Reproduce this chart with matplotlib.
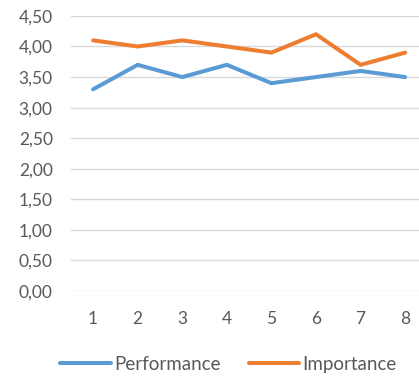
import matplotlib.pyplot as plt
from matplotlib.ticker import FuncFormatter

# Survey items and their mean scores
items = [1, 2, 3, 4, 5, 6, 7, 8]
performance = [3.3, 3.7, 3.5, 3.7, 3.4, 3.5, 3.6, 3.5]
importance = [4.1, 4.0, 4.1, 4.0, 3.9, 4.2, 3.7, 3.9]

plt.rcParams['font.family'] = ['Lato', 'DejaVu Sans']

fig = plt.figure(figsize=(4.19, 3.79), dpi=100)
ax = fig.add_axes([0.169, 0.232, 0.831, 0.726])

ax.plot(items, performance, color='#5B9BD5', linewidth=2.9, label='Performance',
        solid_capstyle='round', solid_joinstyle='round')
ax.plot(items, importance, color='#ED7D31', linewidth=2.9, label='Importance',
        solid_capstyle='round', solid_joinstyle='round')

ax.set_ylim(0, 4.5)
ax.set_xlim(0.5, 8.31)
ax.set_yticks([i * 0.5 for i in range(10)])
ax.yaxis.set_major_formatter(FuncFormatter(lambda v, _: f"{v:.2f}".replace('.', ',')))
ax.set_xticks(items)

ax.grid(axis='y', color='#D9D9D9', linewidth=1)
ax.set_axisbelow(True)
for s in ax.spines.values():
    s.set_visible(False)
ax.tick_params(length=0, labelsize=12.5, colors='#595959')
ax.tick_params(axis='y', pad=13)
ax.tick_params(axis='x', pad=14)

leg = fig.legend(loc='lower center', bbox_to_anchor=(0.545, -0.028), ncol=2, frameon=False,
                 fontsize=13.5, handlelength=2.7, handletextpad=0.15, columnspacing=1.5)
for t in leg.get_texts():
    t.set_color('#595959')

fig.savefig('out.png', dpi=100)
